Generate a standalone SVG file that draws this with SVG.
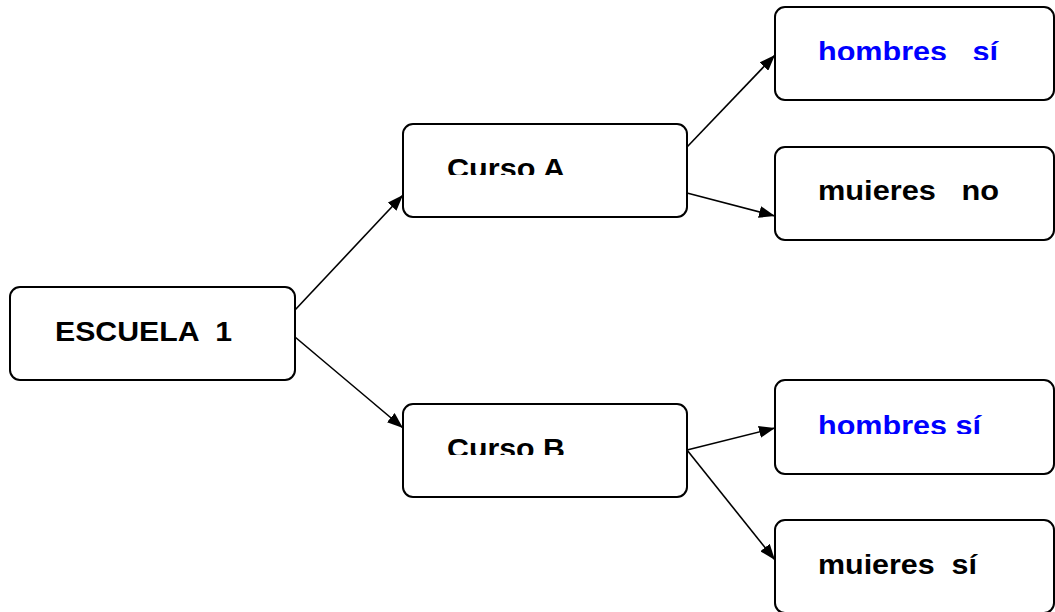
<svg xmlns="http://www.w3.org/2000/svg" width="1055" height="612" viewBox="0 0 1055 612">
<defs>
<marker id="ah" viewBox="0 0 16 12" refX="16" refY="6" markerWidth="16" markerHeight="12" markerUnits="userSpaceOnUse" orient="auto">
<path d="M0,0 L16,6 L0,12 Z" fill="#000"/>
</marker>
<clipPath id="cA"><rect x="403" y="124" width="284" height="51"/></clipPath>
<clipPath id="cB"><rect x="403" y="404" width="284" height="51"/></clipPath>
<clipPath id="c1"><rect x="775" y="7" width="280" height="53"/></clipPath>
<clipPath id="c2"><rect x="775" y="147" width="280" height="53"/></clipPath>
<clipPath id="c3"><rect x="775" y="380" width="280" height="54"/></clipPath>
<clipPath id="c4"><rect x="775" y="520" width="280" height="54"/></clipPath>
</defs>
<style>
.box{fill:#fff;stroke:#000;stroke-width:2}
.t{font-family:"Liberation Sans",Arial,sans-serif;font-weight:bold;font-size:28px;fill:#000}
.blue{fill:#0000ff}
.edge{stroke:#000;stroke-width:1.6;fill:none;marker-end:url(#ah)}
</style>
<rect width="1055" height="612" fill="#fff"/>
<g id="connectors">
<line class="edge" x1="295" y1="310" x2="403" y2="195"/>
<line class="edge" x1="295" y1="337" x2="403" y2="428"/>
<line class="edge" x1="687" y1="147" x2="775" y2="55"/>
<line class="edge" x1="687" y1="193" x2="775" y2="216"/>
<line class="edge" x1="687" y1="450" x2="775" y2="428"/>
<line class="edge" x1="687" y1="450" x2="775" y2="560"/>
</g>
<g id="escuela1">
<rect class="box" x="10" y="287" width="285" height="93" rx="10"/>
<text class="t" x="55" y="341" textLength="177" lengthAdjust="spacingAndGlyphs" xml:space="preserve">ESCUELA  1</text>
</g>
<g id="cursoA">
<rect class="box" x="403" y="124" width="284" height="93" rx="10"/>
<text class="t" x="447" y="177.5" textLength="118" lengthAdjust="spacingAndGlyphs" clip-path="url(#cA)">Curso A</text>
</g>
<g id="cursoB">
<rect class="box" x="403" y="404" width="284" height="93" rx="10"/>
<text class="t" x="447" y="457.5" textLength="118" lengthAdjust="spacingAndGlyphs" clip-path="url(#cB)">Curso B</text>
</g>
<g id="hombresA">
<rect class="box" x="775" y="7" width="279" height="93" rx="10"/>
<text class="t blue" x="818" y="60.5" textLength="180" lengthAdjust="spacingAndGlyphs" clip-path="url(#c1)" xml:space="preserve">hombres   sí</text>
</g>
<g id="mujeresA">
<rect class="box" x="775" y="147" width="279" height="93" rx="10"/>
<text class="t" x="818" y="200" textLength="181" lengthAdjust="spacingAndGlyphs" clip-path="url(#c2)" xml:space="preserve">mujeres   no</text>
</g>
<g id="hombresB">
<rect class="box" x="775" y="380" width="279" height="94" rx="10"/>
<text class="t blue" x="818" y="435" textLength="163" lengthAdjust="spacingAndGlyphs" clip-path="url(#c3)">hombres sí</text>
</g>
<g id="mujeresB">
<rect class="box" x="775" y="520" width="279" height="93" rx="10"/>
<text class="t" x="818" y="574" textLength="159" lengthAdjust="spacingAndGlyphs" clip-path="url(#c4)" xml:space="preserve">mujeres  sí</text>
</g>
</svg>
